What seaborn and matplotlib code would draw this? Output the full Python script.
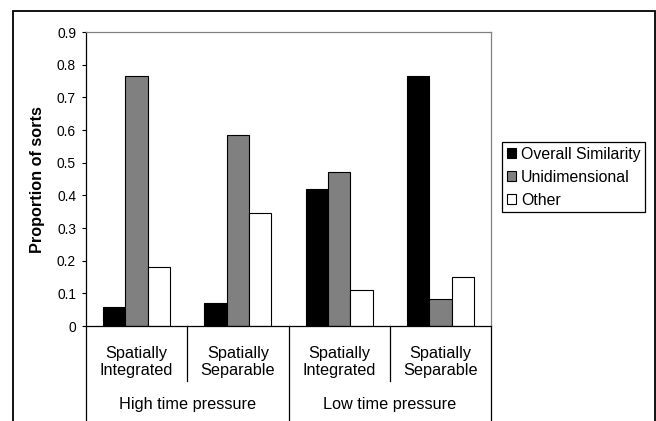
import matplotlib
matplotlib.use("Agg")
import matplotlib.pyplot as plt
import matplotlib.transforms as mtransforms
from matplotlib.patches import Patch, Rectangle
import seaborn as sns
import pandas as pd

# ---- data ----
conditions = ["HI", "HS", "LI", "LS"]
condition_labels = ["Spatially\nIntegrated", "Spatially\nSeparable",
                    "Spatially\nIntegrated", "Spatially\nSeparable"]
group_labels = ["High time pressure", "Low time pressure"]
series = ["Overall Similarity", "Unidimensional", "Other"]
overall_similarity = [0.058, 0.070, 0.419, 0.764]
unidimensional = [0.764, 0.584, 0.472, 0.082]
other = [0.180, 0.346, 0.111, 0.151]
y_ticks = [0, 0.1, 0.2, 0.3, 0.4, 0.5, 0.6, 0.7, 0.8, 0.9]
y_tick_labels = ["0", "0.1", "0.2", "0.3", "0.4", "0.5", "0.6", "0.7", "0.8", "0.9"]
colors = ["#000000", "#808080", "#ffffff"]

rows = []
for name, vals in zip(series, [overall_similarity, unidimensional, other]):
    for c, v in zip(conditions, vals):
        rows.append({"condition": c, "series": name, "value": v})
df = pd.DataFrame(rows)

plt.rcParams["font.family"] = ["Liberation Sans", "DejaVu Sans"]

W, H = 656, 421
fig = plt.figure(figsize=(W / 100, H / 100), dpi=100)
fig.patch.set_facecolor("white")
L, R, T, B = 86, 491, 32, 326
ax = fig.add_axes([L / W, 1 - B / H, (R - L) / W, (B - T) / H])

sns.barplot(data=df, x="condition", y="value", hue="series", order=conditions,
            hue_order=series, palette=colors, edgecolor="black", linewidth=0.8,
            width=0.66, saturation=1, ax=ax, legend=False)

ax.set_xlim(-0.5, 3.5)
ax.set_ylim(0, 0.9)
ax.set_yticks(y_ticks)
ax.set_yticklabels(y_tick_labels)
ax.set_xticks([])
ax.set_xlabel("")
ax.set_ylabel("")
ax.tick_params(axis="y", length=3.2, width=0.8, pad=4, labelsize=9.9, colors="black")
for s in ["left", "bottom"]:
    ax.spines[s].set_color("black")
    ax.spines[s].set_linewidth(0.9)
for s in ["top", "right"]:
    ax.spines[s].set_color("#808080")
    ax.spines[s].set_linewidth(0.9)

trans = mtransforms.blended_transform_factory(ax.transData, ax.transAxes)
inner_y = (B - 381) / (B - T)
outer_y = (B - 425) / (B - T)
for xpos in [-0.5, 1.5, 3.5]:
    ax.plot([xpos, xpos], [0, outer_y], transform=trans, color="black", lw=0.9, clip_on=False)
for xpos in [0.5, 2.5]:
    ax.plot([xpos, xpos], [0, inner_y], transform=trans, color="black", lw=0.9, clip_on=False)

for i, lab in enumerate(condition_labels):
    ax.text(i, (B - 362) / (B - T), lab, transform=trans, ha="center", va="center",
            fontsize=11.7, linespacing=1.2)
for i, lab in enumerate(group_labels):
    ax.text(0.5 + 2 * i, (B - 404) / (B - T), lab, transform=trans, ha="center",
            va="center", fontsize=11.7)

fig.text(38 / W, 1 - 180 / H, "Proportion of sorts", rotation=90, ha="center",
         va="center", fontsize=11.7, fontweight="bold")

handles = [Patch(facecolor=c, edgecolor="black", linewidth=0.8) for c in colors]
leg = fig.legend(handles, series, loc="upper left",
                 bbox_to_anchor=(502 / W, 1 - 142 / H), borderaxespad=0,
                 fontsize=11.4, frameon=True, fancybox=False, framealpha=1,
                 edgecolor="black", handlelength=0.6, handleheight=0.6,
                 handletextpad=0.3, labelspacing=0.5, borderpad=0.3)
leg.get_frame().set_linewidth(0.9)

frame = Rectangle((12.5 / W, -0.1), (655 - 12.5) / W, 1 - 10.5 / H + 0.1,
                  transform=fig.transFigure, fill=False, edgecolor="black",
                  linewidth=1.3, clip_on=False)
fig.patches.append(frame)

fig.savefig("out.png", dpi=100)
